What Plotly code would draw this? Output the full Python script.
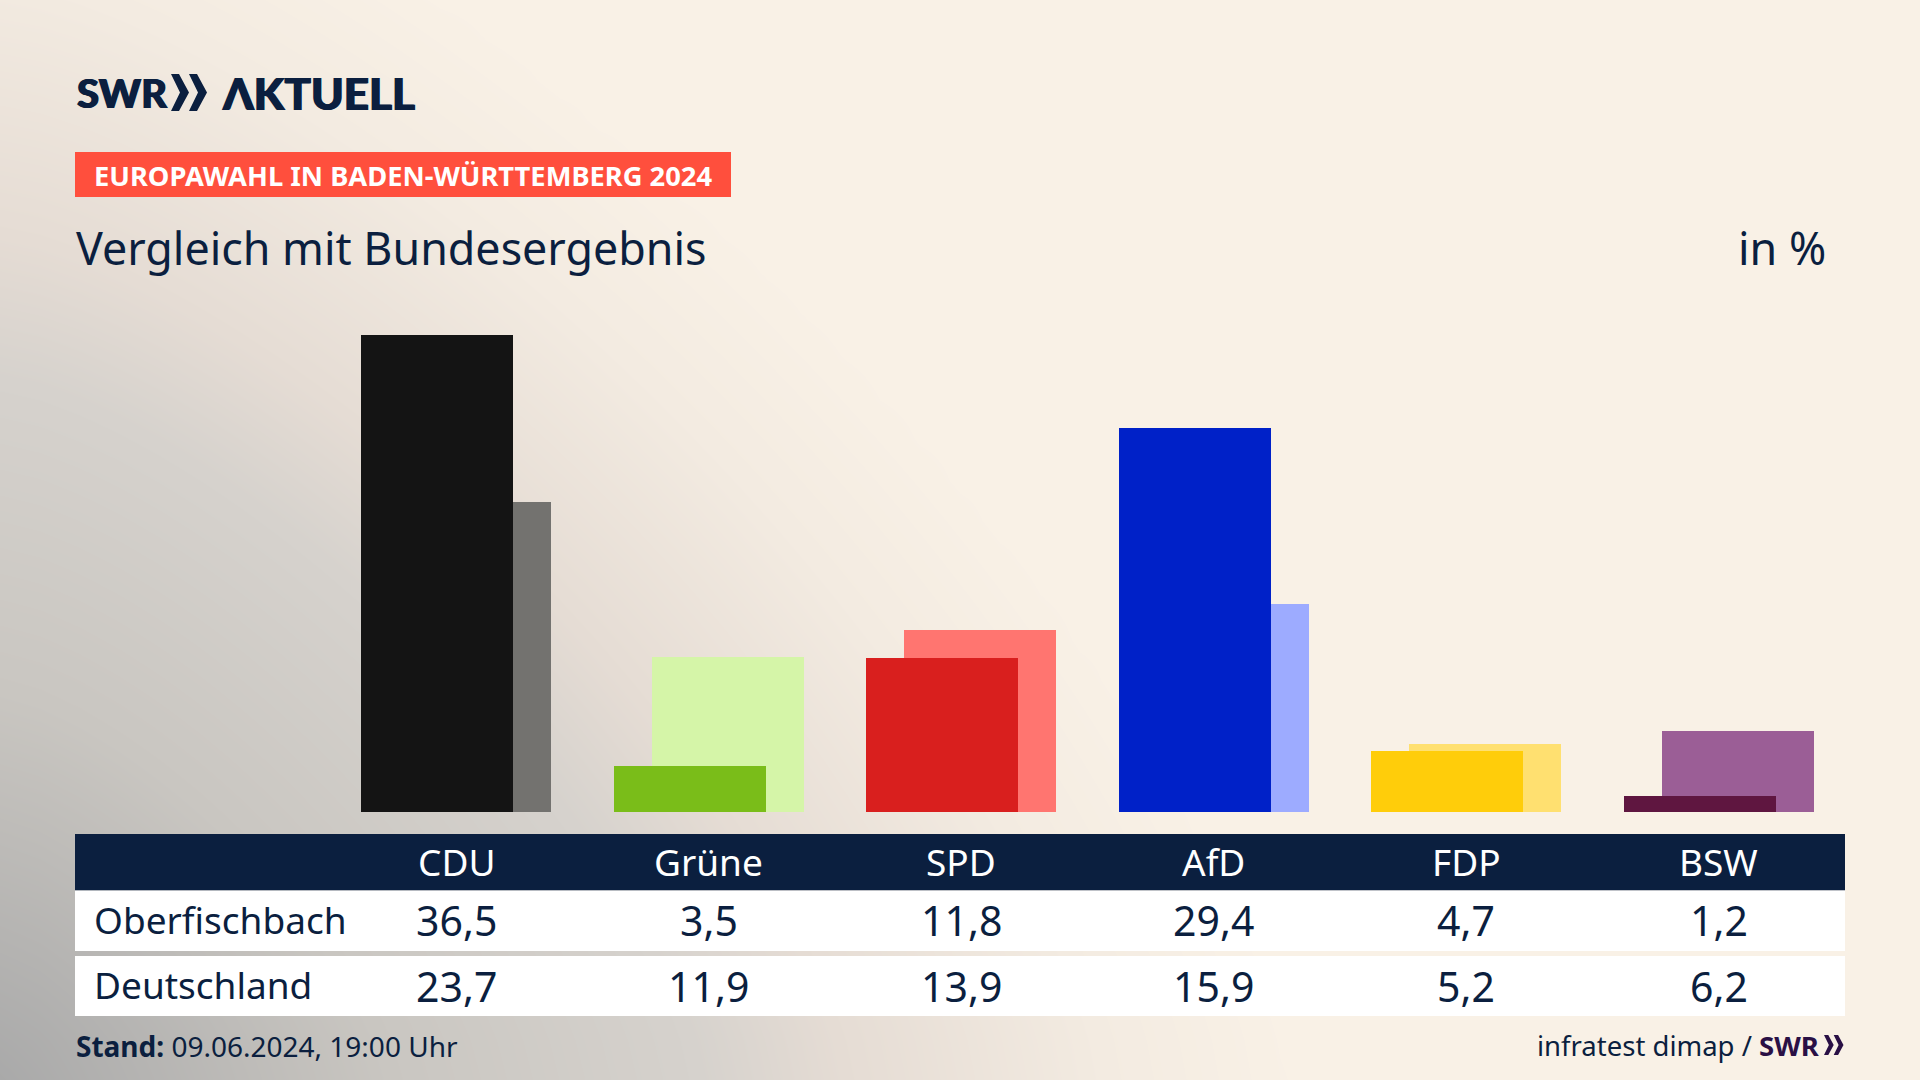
import plotly.graph_objects as go

# Daten
parteien = ['CDU', 'Grüne', 'SPD', 'AfD', 'FDP', 'BSW']
oberfischbach = [36.5, 3.5, 11.8, 29.4, 4.7, 1.2]
deutschland = [23.7, 11.9, 13.9, 15.9, 5.2, 6.2]
farben_gebiet = ['#141414', '#7abd19', '#d91f1e', '#0021c8', '#ffcd0a', '#5f1640']
farben_bund = ['#73726f', '#d5f5a8', '#ff7570', '#9dabff', '#ffe070', '#9b5e96']

NAVY = '#0b1f3f'
FONT = 'Noto Sans'
LOGO_FONT = 'Lato'

W, H = 1920, 1080
SPALTE = 252.5      # Pixel je Partei
MITTE_CDU = 456.2   # Pixel
PX_PRO_PROZENT = 13.06
BASIS = 812.0       # Grundlinie der Balken


def farbverlauf(x, y):
    # Grauer Schein aus der linken unteren Ecke
    return min(1.0, ((x / 1300) ** 1.4 + ((H - y) / 1300) ** 1.4) ** (1 / 1.4))


gitter_x = list(range(0, W + 1, 40))
gitter_y = list(range(0, H + 1, 40))
z = [[farbverlauf(x, y) for x in gitter_x] for y in gitter_y]

fig = go.Figure()

# Hintergrund (Achsen x/y laufen in Pixeln)
fig.add_trace(go.Heatmap(
    x=gitter_x, y=gitter_y, z=z, zmin=0, zmax=1, zsmooth='best', showscale=False,
    hoverinfo='skip',
    colorscale=[[0, '#a9a9a9'], [0.3, '#c9c6c1'], [0.54, '#d6d2cd'], [0.65, '#e5dcd4'],
                [0.85, '#f3ebe1'], [1, '#f9f1e6']],
))

breite = 152 / SPALTE
versatz = 38 / SPALTE
fig.add_trace(go.Bar(
    x=parteien, y=deutschland, name='Deutschland', xaxis='x2', yaxis='y2',
    width=breite, offset=-breite / 2 + versatz / 2,
    marker=dict(color=farben_bund, line_width=0),
))
fig.add_trace(go.Bar(
    x=parteien, y=oberfischbach, name='Oberfischbach', xaxis='x2', yaxis='y2',
    width=breite, offset=-breite / 2 - versatz / 2,
    marker=dict(color=farben_gebiet, line_width=0),
))


def rechteck(x0, y0, x1, y1, farbe):
    return dict(type='rect', xref='x', yref='y', x0=x0, y0=y0, x1=x1, y1=y1,
                fillcolor=farbe, line_width=0)


def doppelpfeil(x, y, hoehe, farbe):
    # Die beiden Winkel aus dem SWR-Logo
    s = hoehe / 37
    pfad = ''
    for dx in (0, 18):
        pts = [(0, 0), (8, 0), (18, 18.5), (8, 37), (0, 37), (9, 18.5)]
        pfad += 'M ' + ' L '.join(f'{x + (px + dx) * s:.1f},{y + py * s:.1f}' for px, py in pts) + ' Z '
    return dict(type='path', xref='x', yref='y', path=pfad, fillcolor=farbe, line_width=0)


shapes = [
    rechteck(75, 152, 731, 197, '#ff4f3d'),
    rechteck(75, 834, 1845, 890.5, NAVY),
    rechteck(75, 890.5, 1845, 951, 'white'),
    rechteck(75, 956, 1845, 1016, 'white'),
    doppelpfeil(171, 74, 37, NAVY),
    doppelpfeil(1824, 1035, 20, '#2a1045'),
]


def text_px(x, y, text, size, farbe=NAVY, anchor='left', font=FONT, weight=None, shadow=None):
    return dict(x=x, y=y, xref='x', yref='y', text=text, showarrow=False, xanchor=anchor,
                yanchor='middle',
                font=dict(family=font, size=size, color=farbe, weight=weight, shadow=shadow))


# Logo-Schrift etwas fetter als Lato Black
FETT = f'0.7px 0 0 {NAVY}, -0.7px 0 0 {NAVY}'

annotations = [
    text_px(75, 93, 'SWR', 40, font=LOGO_FONT, weight=900, shadow=FETT),
    text_px(220, 93, 'ΛKTUELL', 44, font=LOGO_FONT, weight=900, shadow=FETT),
    text_px(92, 175, '<b>EUROPAWAHL IN BADEN-WÜRTTEMBERG 2024</b>', 27.3, 'white'),
    text_px(74, 247, 'Vergleich mit Bundesergebnis', 44.8),
    text_px(1828, 247, 'in %', 44.8, anchor='right'),
    text_px(92, 919, 'Oberfischbach', 37),
    text_px(92, 984, 'Deutschland', 37),
    text_px(74, 1046, '<b>Stand:</b> 09.06.2024, 19:00 Uhr', 28),
    text_px(1822, 1045, 'infratest dimap / <span style="color:#2a1045"><b>SWR</b></span>', 27.5, anchor='right'),
]

# Tabelle: Spalten hängen an derselben Achse wie die Balken
for partei, wert_o, wert_d in zip(parteien, oberfischbach, deutschland):
    for y_px, text, farbe, groesse in [(861, partei, 'white', 37),
                                       (919.5, f'{wert_o:.1f}'.replace('.', ','), NAVY, 41),
                                       (985.5, f'{wert_d:.1f}'.replace('.', ','), NAVY, 41)]:
        annotations.append(dict(
            x=partei, y=1 - y_px / H, xref='x2', yref='paper', text=text, showarrow=False,
            xanchor='center', yanchor='middle', font=dict(family=FONT, size=groesse, color=farbe),
        ))

fig.update_layout(
    width=W, height=H,
    margin=dict(l=0, r=0, t=0, b=0),
    paper_bgcolor='#f9f1e6',
    plot_bgcolor='rgba(0,0,0,0)',
    barmode='overlay',
    bargap=0,
    showlegend=False,
    xaxis=dict(range=[0, W], visible=False, domain=[0, 1]),
    yaxis=dict(range=[H, 0], visible=False, domain=[0, 1]),
    xaxis2=dict(type='category', categoryorder='array', categoryarray=parteien,
                range=[-MITTE_CDU / SPALTE, (W - MITTE_CDU) / SPALTE],
                visible=False, domain=[0, 1], anchor='y2'),
    yaxis2=dict(range=[0, BASIS / PX_PRO_PROZENT], visible=False,
                domain=[(H - BASIS) / H, 1], anchor='x2'),
    shapes=shapes,
    annotations=annotations,
)

fig.write_html("out.html", config={'displayModeBar': False},
               post_script="document.body.style.margin='0';document.body.style.overflow='hidden';")
